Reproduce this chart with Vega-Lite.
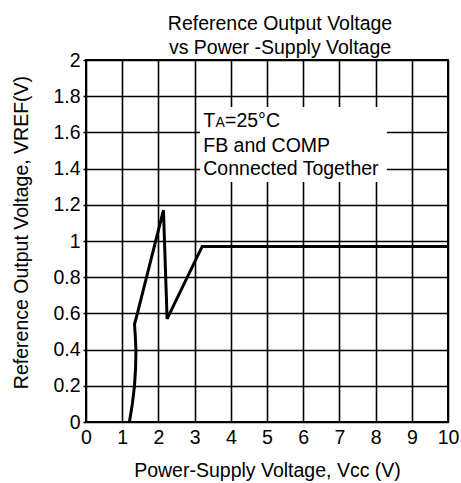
{
  "$schema": "https://vega.github.io/schema/vega-lite/v6.json",
  "width": 362,
  "height": 362,
  "autosize": {"type": "none"},
  "padding": {"left": 86, "top": 60, "right": 13, "bottom": 61},
  "background": "white",
  "title": {
    "text": ["Reference Output Voltage", "vs Power -Supply Voltage"],
    "font": "Liberation Sans",
    "fontSize": 19.5,
    "fontWeight": "normal",
    "color": "black",
    "lineHeight": 24,
    "anchor": "middle",
    "dx": 13,
    "offset": -8
  },
  "config": {
    "view": {"stroke": "black", "strokeWidth": 2},
    "axis": {
      "labelFont": "Liberation Sans",
      "labelFontSize": 19.5,
      "labelColor": "black",
      "titleFont": "Liberation Sans",
      "titleFontSize": 19.5,
      "titleFontWeight": "normal",
      "titleColor": "black",
      "gridColor": "black",
      "gridOpacity": 1,
      "gridWidth": 1.6,
      "domain": false,
      "labelFlush": false,
      "labelOverlap": false,
      "tickColor": "black",
      "tickWidth": 1.6
    }
  },
  "datasets": {
    "curve": [
      {"i": 1, "x": 1.20, "y": 0.00},
      {"i": 2, "x": 1.28, "y": 0.10},
      {"i": 3, "x": 1.34, "y": 0.20},
      {"i": 4, "x": 1.37, "y": 0.30},
      {"i": 5, "x": 1.38, "y": 0.40},
      {"i": 6, "x": 1.36, "y": 0.48},
      {"i": 7, "x": 1.34, "y": 0.54},
      {"i": 8, "x": 1.42, "y": 0.60},
      {"i": 9, "x": 2.14, "y": 1.17},
      {"i": 10, "x": 2.24, "y": 0.57},
      {"i": 11, "x": 3.21, "y": 0.97},
      {"i": 12, "x": 10.0, "y": 0.97}
    ],
    "box": [
      {"x": 3.15, "x2": 8.31, "y": 1.326, "y2": 1.74}
    ],
    "notes": [
      {"x": 3.24, "y": 1.63, "text": "T"},
      {"x": 3.84, "y": 1.63, "text": "=25°C"},
      {"x": 3.24, "y": 1.49, "text": "FB and COMP"},
      {"x": 3.24, "y": 1.365, "text": "Connected Together"}
    ],
    "sub": [
      {"x": 3.575, "y": 1.63, "text": "A"}
    ]
  },
  "encoding": {
    "x": {
      "field": "x",
      "type": "quantitative",
      "scale": {"domain": [0, 10], "nice": false},
      "axis": {
        "values": [0, 1, 2, 3, 4, 5, 6, 7, 8, 9, 10],
        "title": "Power-Supply Voltage, Vcc (V)",
        "ticks": false,
        "labelPadding": 6,
        "titlePadding": 15
      }
    },
    "y": {
      "field": "y",
      "type": "quantitative",
      "scale": {"domain": [0, 2], "nice": false},
      "axis": {
        "values": [0, 0.2, 0.4, 0.6, 0.8, 1, 1.2, 1.4, 1.6, 1.8, 2],
        "format": "~g",
        "title": "Reference Output Voltage, VREF(V)",
        "tickSize": 3,
        "labelPadding": 3,
        "titleX": -55,
        "titleY": 172,
        "titleAngle": -90,
        "titleBaseline": "bottom",
        "titleAlign": "center"
      }
    }
  },
  "layer": [
    {
      "data": {"name": "box"},
      "mark": {"type": "rect", "fill": "white", "strokeWidth": 0},
      "encoding": {
        "x2": {"field": "x2"},
        "y2": {"field": "y2"}
      }
    },
    {
      "data": {"name": "curve"},
      "mark": {"type": "line", "color": "black", "strokeWidth": 3, "strokeJoin": "miter"},
      "encoding": {
        "order": {"field": "i", "type": "quantitative"}
      }
    },
    {
      "data": {"name": "notes"},
      "mark": {"type": "text", "align": "left", "baseline": "alphabetic", "font": "Liberation Sans", "fontSize": 19.5, "color": "black"},
      "encoding": {
        "text": {"field": "text", "type": "nominal"}
      }
    },
    {
      "data": {"name": "sub"},
      "mark": {"type": "text", "align": "left", "baseline": "alphabetic", "font": "Liberation Sans", "fontSize": 14, "color": "black"},
      "encoding": {
        "text": {"field": "text", "type": "nominal"}
      }
    }
  ]
}
